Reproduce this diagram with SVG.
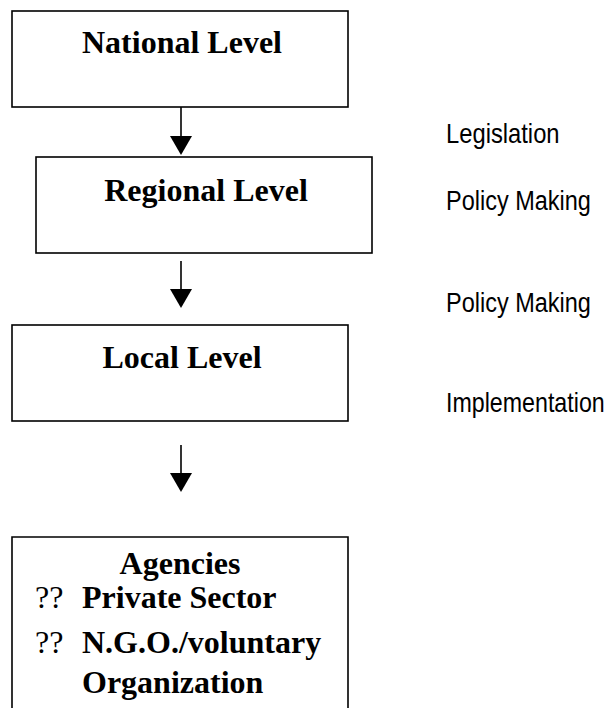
<svg xmlns="http://www.w3.org/2000/svg" width="613" height="708" viewBox="0 0 613 708">
  <style>
    .box { fill: #ffffff; stroke: #000000; stroke-width: 1.6; }
    .title { font-family: "Liberation Serif", "Times New Roman", serif; font-weight: bold; font-size: 32px; fill: #000000; }
    .bullet { font-family: "Liberation Serif", "Times New Roman", serif; font-size: 32px; fill: #000000; }
    .note { font-family: "Liberation Sans", Arial, sans-serif; font-size: 27px; fill: #000000; }
    .conn { stroke: #000000; stroke-width: 1.6; fill: none; }
    .head { fill: #000000; stroke: none; }
  </style>
  <rect width="613" height="708" fill="#ffffff"/>

  <g id="national">
    <rect class="box" x="12" y="11" width="336" height="96"/>
    <text class="title" x="182" y="53" text-anchor="middle">National Level</text>
  </g>

  <g id="regional">
    <rect class="box" x="36" y="157" width="336" height="96"/>
    <text class="title" x="206" y="201" text-anchor="middle">Regional Level</text>
  </g>

  <g id="local">
    <rect class="box" x="12" y="325" width="336" height="96"/>
    <text class="title" x="182" y="368" text-anchor="middle">Local Level</text>
  </g>

  <g id="agencies">
    <path class="box" d="M12,708 V537 H348 V708"/>
    <text class="title" x="180" y="574" text-anchor="middle">Agencies</text>
    <text class="bullet" x="35" y="608">??</text>
    <text class="title" x="82" y="608">Private Sector</text>
    <text class="bullet" x="35" y="653">??</text>
    <text class="title" x="82" y="653">N.G.O./voluntary</text>
    <text class="title" x="82" y="693">Organization</text>
  </g>

  <g id="connectors">
    <line class="conn" x1="181" y1="107" x2="181" y2="138"/>
    <polygon class="head" points="170,136 192,136 181,155"/>
    <line class="conn" x1="181" y1="261" x2="181" y2="291"/>
    <polygon class="head" points="170,289 192,289 181,308"/>
    <line class="conn" x1="181" y1="445" x2="181" y2="475"/>
    <polygon class="head" points="170,473 192,473 181,492"/>
  </g>

  <!-- condensed sans labels: horizontal squeeze applied per line -->
  <g id="roles">
    <text class="note" transform="translate(446,143) scale(0.88,1)">Legislation</text>
    <text class="note" transform="translate(446,210) scale(0.87,1)">Policy Making</text>
    <text class="note" transform="translate(446,312) scale(0.87,1)">Policy Making</text>
    <text class="note" transform="translate(446,412) scale(0.86,1)">Implementation</text>
  </g>
</svg>
